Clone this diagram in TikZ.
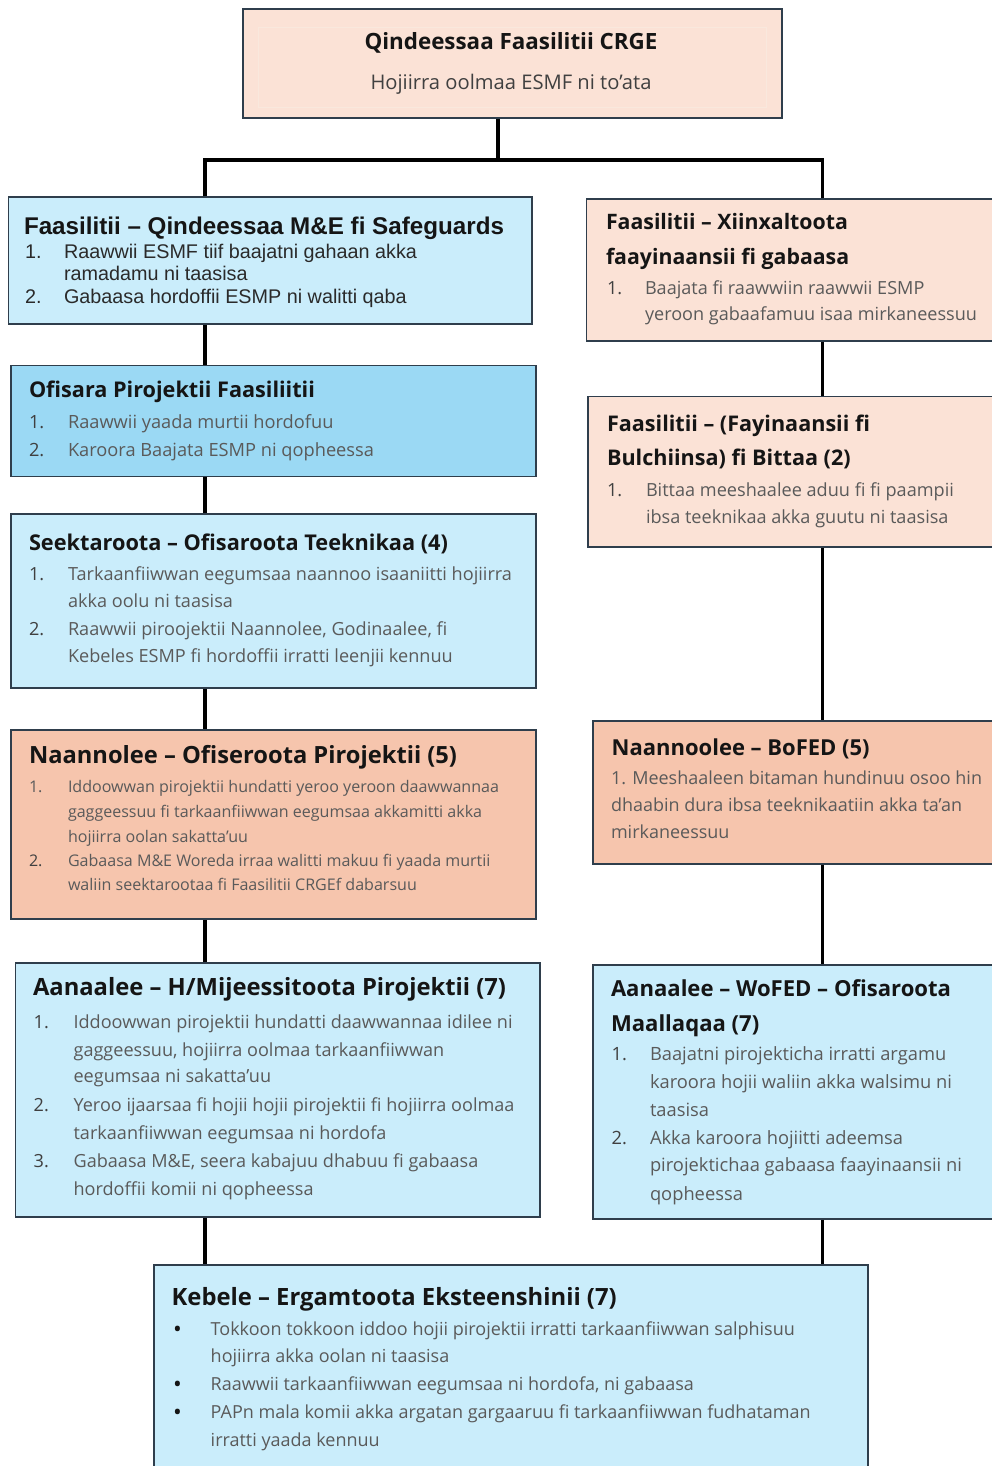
\documentclass[tikz,border=0pt]{standalone}
\usepackage{fontspec}
\newfontfamily\ap{Open Sans}
\newfontfamily\ar{Liberation Sans}
\definecolor{bordc}{HTML}{2F3E4C}
\definecolor{peachL}{HTML}{FBE2D6}
\definecolor{salmon}{HTML}{F6C5AD}
\definecolor{blueL}{HTML}{CAEDFB}
\definecolor{blueM}{HTML}{9BD9F4}
\definecolor{titc}{HTML}{151515}
\definecolor{itc}{HTML}{5A5A5A}
\definecolor{numc}{HTML}{404040}
\definecolor{arc}{HTML}{2A2A2A}
\newdimen\tmpw
\newcommand\fitsz[4]{\setbox0=\hbox{#2\fontsize{10}{12}\selectfont #4}\tmpw=\wd0\relax
  \ifdim\tmpw>1pt\relax\pgfmathsetmacro#1{10*#3/\the\tmpw}\else\def#1{16}\fi}
\AtBeginDocument{%
\fitsz\szTopT{\ap\bfseries}{293}{Qindeessaa Faasilitii CRGE}%
\fitsz\szTopS{\ap}{281}{Hojiirra oolmaa ESMF ni to’ata}%
\fitsz\szAt{\ar\bfseries}{480}{Faasilitii – Qindeessaa M\&E fi Safeguards}%
\fitsz\szAi{\ar}{353}{Raawwii ESMF tiif baajatni gahaan akka}%
\fitsz\szBt{\ap\bfseries}{286}{Ofisara Pirojektii Faasiliitii}%
\fitsz\szBi{\ap}{306}{Karoora Baajata ESMP ni qopheessa}%
\fitsz\szCt{\ap\bfseries}{419}{Seektaroota – Ofisaroota Teeknikaa (4)}%
\fitsz\szCi{\ap}{444}{Tarkaanfiiwwan eegumsaa naannoo isaaniitti hojiirra}%
\fitsz\szDt{\ap\bfseries}{428}{Naannolee – Ofiseroota Pirojektii (5)}%
\fitsz\szDi{\ap}{431}{Iddoowwan pirojektii hundatti yeroo yeroon daawwannaa}%
\fitsz\szEt{\ap\bfseries}{473}{Aanaalee – H/Mijeessitoota Pirojektii (7)}%
\fitsz\szEi{\ap}{439}{Iddoowwan pirojektii hundatti daawwannaa idilee ni}%
\fitsz\szFt{\ap\bfseries}{242}{Faasilitii – Xiinxaltoota}%
\fitsz\szFi{\ap}{332}{yeroon gabaafamuu isaa mirkaneessuu}%
\fitsz\szGt{\ap\bfseries}{263}{Faasilitii – (Fayinaansii fi}%
\fitsz\szGi{\ap}{308}{Bittaa meeshaalee aduu fi fi paampii}%
\fitsz\szHt{\ap\bfseries}{258}{Naannoolee – BoFED (5)}%
\fitsz\szHi{\ap}{371}{1. Meeshaaleen bitaman hundinuu osoo hin}%
\fitsz\szIt{\ap\bfseries}{340}{Aanaalee – WoFED – Ofisaroota}%
\fitsz\szIi{\ap}{312}{pirojektichaa gabaasa faayinaansii ni}%
\fitsz\szJt{\ap\bfseries}{445}{Kebele – Ergamtoota Eksteenshinii (7)}%
\fitsz\szJi{\ap}{600}{PAPn mala komii akka argatan gargaaruu fi tarkaanfiiwwan fudhataman}%
}
\tikzset{
  ln/.style={anchor=base west, inner sep=0pt, outer sep=0pt},
  box/.style={draw=bordc, line width=1.8pt, inner sep=0pt, anchor=north west},
  conn/.style={line width=3.8pt, black, line join=miter},
  tT/.style={ln, titc, font={\ap\bfseries\fontsize{\szTopT}{\szTopT}\selectfont}},
  tS/.style={ln, numc, font={\ap\fontsize{\szTopS}{\szTopS}\selectfont}},
  At/.style={ln, titc, font={\ar\bfseries\fontsize{\szAt}{\szAt}\selectfont}},
  Ai/.style={ln, arc, font={\ar\fontsize{\szAi}{\szAi}\selectfont}},
  Bt/.style={ln, titc, font={\ap\bfseries\fontsize{\szBt}{\szBt}\selectfont}},
  Bi/.style={ln, itc, font={\ap\fontsize{\szBi}{\szBi}\selectfont}},
  Ct/.style={ln, titc, font={\ap\bfseries\fontsize{\szCt}{\szCt}\selectfont}},
  Ci/.style={ln, itc, font={\ap\fontsize{\szCi}{\szCi}\selectfont}},
  Dt/.style={ln, titc, font={\ap\bfseries\fontsize{\szDt}{\szDt}\selectfont}},
  Di/.style={ln, itc, font={\ap\fontsize{\szDi}{\szDi}\selectfont}},
  Et/.style={ln, titc, font={\ap\bfseries\fontsize{\szEt}{\szEt}\selectfont}},
  Ei/.style={ln, itc, font={\ap\fontsize{\szEi}{\szEi}\selectfont}},
  Ft/.style={ln, titc, font={\ap\bfseries\fontsize{\szFt}{\szFt}\selectfont}},
  Fi/.style={ln, itc, font={\ap\fontsize{\szFi}{\szFi}\selectfont}},
  Gt/.style={ln, titc, font={\ap\bfseries\fontsize{\szGt}{\szGt}\selectfont}},
  Gi/.style={ln, itc, font={\ap\fontsize{\szGi}{\szGi}\selectfont}},
  Ht/.style={ln, titc, font={\ap\bfseries\fontsize{\szHt}{\szHt}\selectfont}},
  Hi/.style={ln, itc, font={\ap\fontsize{\szHi}{\szHi}\selectfont}},
  It/.style={ln, titc, font={\ap\bfseries\fontsize{\szIt}{\szIt}\selectfont}},
  Ii/.style={ln, itc, font={\ap\fontsize{\szIi}{\szIi}\selectfont}},
  Jt/.style={ln, titc, font={\ap\bfseries\fontsize{\szJt}{\szJt}\selectfont}},
  Ji/.style={ln, itc, font={\ap\fontsize{\szJi}{\szJi}\selectfont}},
  num/.style={text=numc},
  bul/.style={ln, titc, font={\ap\bfseries\fontsize{\szJi}{\szJi}\selectfont}},
}
\begin{document}
\begin{tikzpicture}[x=1pt,y=-1pt]
\clip (0,0) rectangle (992,1466);
\fill[white] (0,0) rectangle (992,1466);

% ---------- boxes ----------
\node[box, fill=peachL, minimum width=539pt, minimum height=109pt] (T) at (242,8.5) {};
\draw[draw=peachL!90!brown!60, line width=0.6pt] (258,27) rectangle (766,107);
\node[box, fill=blueL, minimum width=523.5pt, minimum height=126.5pt] (A) at (7.5,196.5) {};
\node[box, fill=blueM, minimum width=525pt, minimum height=111pt] (B) at (10,364.5) {};
\node[box, fill=blueL, minimum width=525pt, minimum height=174pt] (C) at (10,512.7) {};
\node[box, fill=salmon, minimum width=525pt, minimum height=189pt] (D) at (10,729.3) {};
\node[box, fill=blueL, minimum width=524.4pt, minimum height=254pt] (E) at (14.6,961.7) {};
\node[box, fill=peachL, minimum width=420pt, minimum height=142pt] (F) at (585.5,198) {};
\node[box, fill=peachL, minimum width=420pt, minimum height=150.5pt] (G) at (587,395.5) {};
\node[box, fill=salmon, minimum width=420pt, minimum height=143pt] (H) at (591.7,720) {};
\node[box, fill=blueL, minimum width=420pt, minimum height=254pt] (I) at (591.7,964) {};
\node[box, fill=blueL, minimum width=714pt, minimum height=220pt] (J) at (152.7,1264) {};

% ---------- connectors ----------
\coordinate (hub) at (498,160);
\coordinate (colL) at (205,160);
\coordinate (colR) at (822.5,160);
\draw[conn] (T.south -| hub) -- (hub);
\draw[conn] (A.north -| colL) -- (colL) -- (colR) -- (F.north -| colR);
\draw[conn] (A.south -| colL) -- (B.north -| colL);
\draw[conn] (B.south -| colL) -- (C.north -| colL);
\draw[conn] (C.south -| colL) -- (D.north -| colL);
\draw[conn] (D.south -| colL) -- (E.north -| colL);
\draw[conn] (E.south -| colL) -- (J.north -| colL);
\draw[conn] (F.south -| colR) -- (G.north -| colR);
\draw[conn] (G.south -| colR) -- (H.north -| colR);
\draw[conn] (H.south -| colR) -- (I.north -| colR);
\draw[conn] (I.south -| colR) -- (J.north -| colR);

% ---------- texts ----------
\node[tT, anchor=base] (T1) at (511,49.3) {Qindeessaa Faasilitii CRGE};
\node[tS, anchor=base] (T2) at (511,90) {Hojiirra oolmaa ESMF ni to’ata};

\node[At] (A0) at (24,234.3) {Faasilitii – Qindeessaa M\&E fi Safeguards};
\node[Ai] (A1n) at (25,258.3) {1.};
\node[Ai] (A1) at (64,258.3) {Raawwii ESMF tiif baajatni gahaan akka};
\node[Ai] (A1b) at (64,280.7) {ramadamu ni taasisa};
\node[Ai] (A2n) at (25,303.3) {2.};
\node[Ai] (A2) at (64,303.3) {Gabaasa hordoffii ESMP ni walitti qaba};

\node[Bt] (B0) at (29,397.3) {Ofisara Pirojektii Faasiliitii};
\node[Bi, num] (B1n) at (29,428.3) {1.};
\node[Bi] (B1) at (68,428.3) {Raawwii yaada murtii hordofuu};
\node[Bi, num] (B2n) at (29,456) {2.};
\node[Bi] (B2) at (68,456) {Karoora Baajata ESMP ni qopheessa};

\node[Ct] (C0) at (29,550) {Seektaroota – Ofisaroota Teeknikaa (4)};
\node[Ci, num] (C1n) at (29,580) {1.};
\node[Ci] (C1) at (68,580) {Tarkaanfiiwwan eegumsaa naannoo isaaniitti hojiirra};
\node[Ci] (C1b) at (68,607.3) {akka oolu ni taasisa};
\node[Ci, num] (C2n) at (29,635.3) {2.};
\node[Ci] (C2) at (68,635.3) {Raawwii piroojektii Naannolee, Godinaalee, fi};
\node[Ci] (C2b) at (68,662.7) {Kebeles ESMP fi hordoffii irratti leenjii kennuu};

\node[Dt] (D0) at (29,763.3) {Naannolee – Ofiseroota Pirojektii (5)};
\node[Di] (D1n) at (29,792.7) {1.};
\node[Di] (D1) at (68,792.7) {Iddoowwan pirojektii hundatti yeroo yeroon daawwannaa};
\node[Di] (D1b) at (68,817.3) {gaggeessuu fi tarkaanfiiwwan eegumsaa akkamitti akka};
\node[Di] (D1c) at (68,842.7) {hojiirra oolan sakatta’uu};
\node[Di, num] (D2n) at (29,866.7) {2.};
\node[Di] (D2) at (68,866.7) {Gabaasa M\&E Woreda irraa walitti makuu fi yaada murtii};
\node[Di] (D2b) at (68,890.7) {waliin seektarootaa fi Faasilitii CRGEf dabarsuu};

\node[Et] (E0) at (33,995.7) {Aanaalee – H/Mijeessitoota Pirojektii (7)};
\node[Ei, num] (E1n) at (33.7,1028.3) {1.};
\node[Ei] (E1) at (73.6,1028.3) {Iddoowwan pirojektii hundatti daawwannaa idilee ni};
\node[Ei] (E1b) at (73.6,1056) {gaggeessuu, hojiirra oolmaa tarkaanfiiwwan};
\node[Ei] (E1c) at (73.6,1082.7) {eegumsaa ni sakatta’uu};
\node[Ei, num] (E2n) at (33.7,1111.7) {2.};
\node[Ei] (E2) at (73.6,1111.7) {Yeroo ijaarsaa fi hojii hojii pirojektii fi hojiirra oolmaa};
\node[Ei] (E2b) at (73.6,1139.3) {tarkaanfiiwwan eegumsaa ni hordofa};
\node[Ei, num] (E3n) at (33.7,1167.3) {3.};
\node[Ei] (E3) at (73.6,1167.3) {Gabaasa M\&E, seera kabajuu dhabuu fi gabaasa};
\node[Ei] (E3b) at (73.6,1195) {hordoffii komii ni qopheessa};

\node[Ft] (F0) at (606,229.3) {Faasilitii – Xiinxaltoota};
\node[Ft] (F0b) at (606,264) {faayinaansii fi gabaasa};
\node[Fi, num] (F1n) at (607,294) {1.};
\node[Fi] (F1) at (645,294) {Baajata fi raawwiin raawwii ESMP};
\node[Fi] (F1b) at (645,320.7) {yeroon gabaafamuu isaa mirkaneessuu};

\node[Gt] (G0) at (607,431) {Faasilitii – (Fayinaansii fi};
\node[Gt] (G0b) at (607,465) {Bulchiinsa) fi Bittaa (2)};
\node[Gi, num] (G1n) at (607,496) {1.};
\node[Gi] (G1) at (646,496) {Bittaa meeshaalee aduu fi fi paampii};
\node[Gi] (G1b) at (646,523.3) {ibsa teeknikaa akka guutu ni taasisa};

\node[Ht] (H0) at (611.7,755) {Naannoolee – BoFED (5)};
\node[Hi] (H1) at (611,784) {1. Meeshaaleen bitaman hundinuu osoo hin};
\node[Hi] (H1b) at (611,811.7) {dhaabin dura ibsa teeknikaatiin akka ta’an};
\node[Hi] (H1c) at (611,838.3) {mirkaneessuu};

\node[It] (I0) at (611,996.7) {Aanaalee – WoFED – Ofisaroota};
\node[It] (I0b) at (611,1031.7) {Maallaqaa (7)};
\node[Ii, num] (I1n) at (611.7,1060) {1.};
\node[Ii] (I1) at (650,1060) {Baajatni pirojekticha irratti argamu};
\node[Ii] (I1b) at (650,1088.3) {karoora hojii waliin akka walsimu ni};
\node[Ii] (I1c) at (650,1116) {taasisa};
\node[Ii, num] (I2n) at (611.7,1144) {2.};
\node[Ii] (I2) at (650,1144) {Akka karoora hojiitti adeemsa};
\node[Ii] (I2b) at (650,1171.7) {pirojektichaa gabaasa faayinaansii ni};
\node[Ii] (I2c) at (650,1200) {qopheessa};

\node[Jt] (J0) at (171.7,1305) {Kebele – Ergamtoota Eksteenshinii (7)};
\node[bul] (J1n) at (174,1335) {•};
\node[Ji] (J1) at (210.7,1335) {Tokkoon tokkoon iddoo hojii pirojektii irratti tarkaanfiiwwan salphisuu};
\node[Ji] (J1b) at (210.7,1362.7) {hojiirra akka oolan ni taasisa};
\node[bul] (J2n) at (174,1390.7) {•};
\node[Ji] (J2) at (210.7,1390.7) {Raawwii tarkaanfiiwwan eegumsaa ni hordofa, ni gabaasa};
\node[bul] (J3n) at (174,1418.3) {•};
\node[Ji] (J3) at (210.7,1418.3) {PAPn mala komii akka argatan gargaaruu fi tarkaanfiiwwan fudhataman};
\node[Ji] (J3b) at (210.7,1446) {irratti yaada kennuu};
\end{tikzpicture}
\end{document}
